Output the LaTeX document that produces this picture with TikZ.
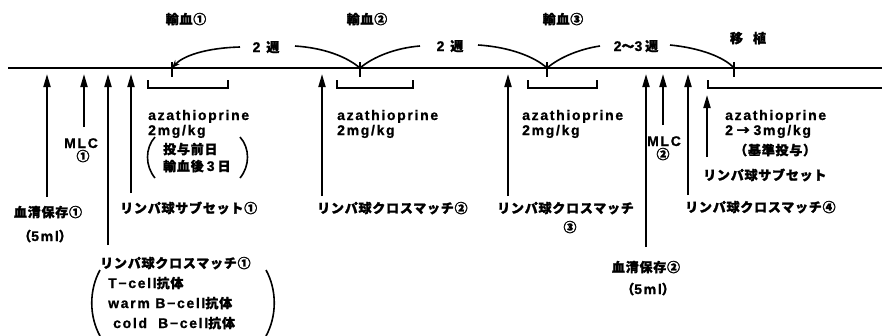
\documentclass[tikz,border=0pt]{standalone}
\usepackage{fontspec}
\setmainfont{Noto Sans CJK JP}[LetterSpace=6, BoldFeatures={FakeBold=1.5}]
\newfontfamily\lat{Liberation Sans}[LetterSpace=12, BoldFeatures={FakeBold=1}]
\newcommand{\mylat}[1]{{\fontsize{14}{15}\selectfont\lat #1}}
\usetikzlibrary{arrows.meta}
\begin{document}
\begin{tikzpicture}[x=1pt,y=-1pt,
  lbl/.style={inner sep=0pt, font=\fontsize{13}{15}\selectfont\bfseries},
  lbw/.style={lbl, anchor=base west},
  lbc/.style={lbl, anchor=base},
  axis/.style={line width=1.9pt},
  tickmark/.style={line width=1.9pt},
  uparr/.style={line width=1.9pt, -{Triangle[length=13pt,width=7pt]}},
  brk/.style={line width=1.6pt},
  paren/.style={line width=1.6pt},
  span/.style={line width=1.6pt},
]
\useasboundingbox (0,0) rectangle (882,335);
% timeline
\coordinate (t0) at (8,68);
\coordinate (t1) at (882,68);
\draw[axis] (t0) -- (t1);
\coordinate (k1) at (172,68);
\coordinate (k2) at (360,68);
\coordinate (k3) at (547,68);
\coordinate (k4) at (734,68);
\foreach \k in {k1,k2,k3,k4} \draw[tickmark] ([yshift=6pt]\k) -- ([yshift=-9pt]\k);

% top labels
\node[lbc] (tr1) at (186,24) {輸血①};
\node[lbc] (tr2) at (367,24) {輸血②};
\node[lbc] (tr3) at (563,24) {輸血③};
\node[lbc] (wk1) at (266,52) {\mylat{2}\hspace{6pt}週};
\node[lbc] (wk2) at (450,51) {\mylat{2}\hspace{6pt}週};
\node[lbc] (wk3) at (636,51) {\mylat{2}～\mylat{3}\hspace{3pt}週};
\node[lbc] (tp) at (748,43) {移\hspace{10pt}植};

% interval curves
\coordinate (c1) at (240,47);
\coordinate (c2) at (295,46);
\coordinate (c3) at (420,46);
\coordinate (c4) at (478,45);
\coordinate (c5) at (600,46);
\coordinate (c6) at (670,45);
\draw[span,-{Stealth[length=8pt,width=6pt]}] (c1) .. controls (205,48) and (183,56) .. (k1);
\draw[span] (c2) .. controls (325,48) and (347,57) .. (k2);
\draw[span] (k2) .. controls (373,57) and (395,48) .. (c3);
\draw[span] (c4) .. controls (510,47) and (535,57) .. (k3);
\draw[span] (k3) .. controls (560,57) and (580,49) .. (c5);
\draw[span] (c6) .. controls (700,48) and (724,57) .. (k4);

% azathioprine brackets
\draw[brk] (148,80) -- (148,88) -- (228,88) -- (228,80);
\draw[brk] (337,80) -- (337,88) -- (413,88) -- (413,80);
\draw[brk] (528,80) -- (528,88) -- (597,88) -- (597,80);
\draw[brk] (708,80) -- (708,88) -- (882,88);

% upward arrows
\foreach \n/\x/\yb/\yt in {1/47/197/74, 2/84/127/74, 3/108/245/74, 4/131/193/74,
  5/322/196/74, 6/508/196/74, 7/646/247/74, 8/663/125/74, 9/688/195/74, 10/707/157/95}
{
  \coordinate (ab\n) at (\x,\yb);
  \coordinate (at\n) at (\x,\yt);
  \draw[uparr] (ab\n) -- (at\n);
}

% azathioprine texts
\node[lbw] (az1a) at (148,120) {\mylat{azathioprine}};
\node[lbw] (az1b) at (148,135) {\mylat{2mg/kg}};
\node[lbw] (az1c) at (163,154) {投与前日};
\node[lbw] (az1d) at (163,171) {輸血後\hspace{3pt}\mylat{3}\hspace{3pt}日};
\draw[paren] (155,137) .. controls (145,148) and (145,166) .. (155,178);
\draw[paren] (240,137) .. controls (250,148) and (250,166) .. (240,178);

\node[lbw] (az2a) at (337,120) {\mylat{azathioprine}};
\node[lbw] (az2b) at (337,135) {\mylat{2mg/kg}};
\node[lbw] (az3a) at (522,120) {\mylat{azathioprine}};
\node[lbw] (az3b) at (522,135) {\mylat{2mg/kg}};
\node[lbw] (az4a) at (725,120) {\mylat{azathioprine}};
\node[lbw] (az4b) at (725,135) {\mylat{2} → \mylat{3mg/kg}};
\node[lbw] (az4c) at (734,155) {（基準投与）};

% MLC
\node[lbc] (mlc1a) at (81,148) {\mylat{MLC}};
\node[lbc] (mlc1b) at (83,161) {①};
\node[lbc] (mlc2a) at (664,146) {\mylat{MLC}};
\node[lbc] (mlc2b) at (663,159) {②};

% serum
\node[lbc] (s1a) at (48,217) {血清保存①};
\node[lbc] (s1b) at (45,241) {（\mylat{5ml}）};
\node[lbc] (s2a) at (646,272) {血清保存②};
\node[lbc] (s2b) at (648,294) {（\mylat{5ml}）};

% lymphocyte labels
\node[lbw] (sub1) at (120,213) {リンパ球サブセット①};
\node[lbw] (cm1) at (100,268) {リンパ球クロスマッチ①};
\node[lbw] (cm2) at (317,213) {リンパ球クロスマッチ②};
\node[lbw] (cm3a) at (497,213) {リンパ球クロスマッチ};
\node[lbc] (cm3b) at (570,232) {③};
\node[lbw] (sub4) at (703,180) {リンパ球サブセット};
\node[lbw] (cm4) at (685,212) {リンパ球クロスマッチ④};

% antibody list
\node[lbw] (ab1) at (108,288) {\mylat{T−cell}抗体};
\node[lbw] (ab2) at (108,308) {\mylat{warm B−cell}抗体};
\node[lbw] (ab3) at (113,328) {\mylat{cold\ \ B−cell}抗体};
\draw[paren] (100,270) .. controls (89,290) and (89,316) .. (100,336);
\draw[paren] (266,270) .. controls (277,290) and (277,316) .. (266,336);
\end{tikzpicture}
\end{document}
